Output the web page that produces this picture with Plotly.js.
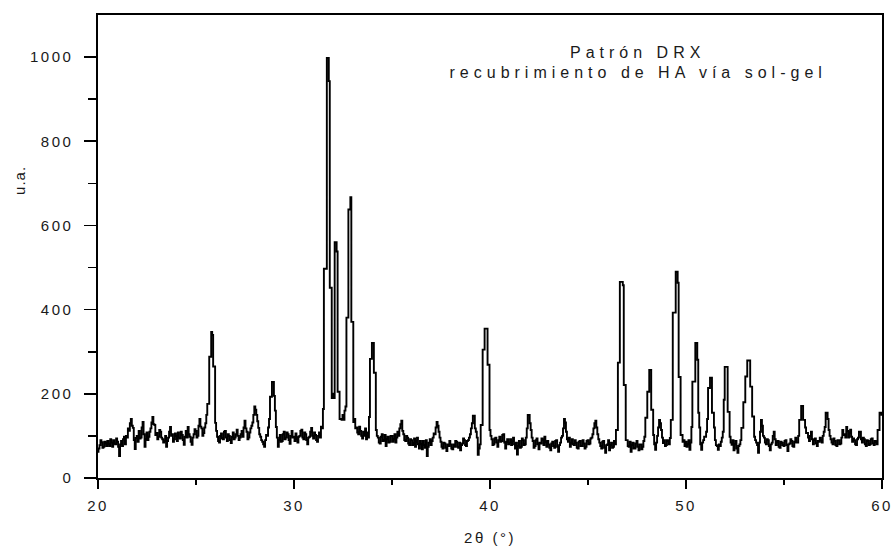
<!DOCTYPE html>
<html>
<head>
<meta charset="utf-8">
<script src="https://cdn.plot.ly/plotly-3.0.1.min.js"></script>
<style>
  html, body { margin: 0; padding: 0; background: #fff; }
  #chart { width: 893px; height: 551px; }
  #chart text { letter-spacing: 2.5px; }
  #chart .annotation-text { letter-spacing: 5px; }
</style>
</head>
<body>
<div id="chart"></div>
<script>
// 2θ scan: start and step (degrees)
const twoThetaStart = 20;
const twoThetaStep = 0.05;

// Intensity (u.a.), one row per degree (20 samples), 20.00 ... 60.00
const intensity = [
  62, 70, 78, 90, 85, 72, 74, 86, 82, 76, 88, 80, 76, 92, 84, 74, 90, 82, 80, 94,            // 20
  86, 74, 52, 80, 88, 76, 92, 98, 80, 100, 96, 118, 112, 130, 140, 124, 119, 90, 69, 95,     // 21
  100, 86, 112, 94, 96, 120, 133, 104, 74, 92, 108, 90, 98, 110, 118, 132, 145, 128, 126, 102, // 22
  107, 92, 98, 114, 110, 96, 92, 84, 88, 100, 74, 88, 96, 110, 121, 100, 104, 86, 92, 106,   // 23
  100, 88, 108, 96, 94, 110, 102, 90, 79, 98, 112, 96, 121, 104, 98, 86, 79, 96, 104, 116,   // 24
  112, 96, 100, 124, 140, 122, 118, 100, 107, 120, 130, 150, 176, 176, 288, 288, 347, 340, 265, 265, // 25
  131, 112, 98, 88, 84, 100, 106, 94, 92, 110, 112, 96, 88, 104, 100, 90, 83, 98, 108, 92,   // 26
  96, 104, 115, 100, 90, 96, 104, 112, 98, 120, 136, 118, 110, 92, 96, 108, 118, 124, 132, 150, // 27
  170, 162, 150, 135, 119, 104, 98, 90, 86, 80, 74, 90, 102, 100, 120, 140, 193, 193, 228, 228, // 28
  195, 160, 121, 96, 74, 90, 102, 86, 88, 104, 110, 92, 96, 108, 104, 90, 81, 100, 112, 96,  // 29
  98, 88, 106, 94, 84, 98, 100, 112, 115, 96, 92, 108, 104, 90, 80, 96, 98, 110, 119, 100,   // 30
  94, 108, 102, 90, 86, 100, 108, 96, 122, 118, 164, 497, 497, 497, 998, 998, 943, 452, 452, 190, // 31
  200, 190, 560, 560, 538, 205, 205, 140, 140, 138, 150, 138, 160, 170, 381, 381, 638, 638, 667, 371, // 32
  371, 133, 140, 118, 120, 108, 104, 122, 112, 100, 94, 110, 100, 118, 92, 108, 96, 145, 283, 283, // 33
  321, 321, 250, 250, 114, 100, 96, 84, 82, 98, 104, 88, 90, 102, 76, 92, 98, 84, 86, 100,   // 34
  100, 86, 92, 104, 84, 96, 110, 100, 118, 128, 136, 112, 104, 90, 88, 100, 96, 82, 78, 92,  // 35
  90, 78, 82, 94, 74, 86, 96, 80, 70, 88, 80, 68, 88, 78, 72, 90, 52, 74, 84, 92,            // 36
  78, 88, 96, 106, 104, 120, 133, 124, 110, 96, 86, 74, 70, 84, 82, 72, 64, 80, 76, 88,      // 37
  80, 70, 68, 80, 74, 88, 86, 74, 72, 84, 66, 78, 82, 94, 90, 78, 76, 88, 90, 96,            // 38
  104, 118, 130, 148, 148, 118, 110, 96, 55, 70, 80, 126, 126, 305, 305, 355, 355, 355, 269, 269, // 39
  114, 100, 92, 78, 80, 94, 96, 84, 74, 90, 98, 86, 88, 102, 104, 84, 70, 86, 92, 80,        // 40
  84, 92, 78, 88, 96, 80, 70, 84, 56, 76, 88, 72, 74, 94, 90, 78, 80, 96, 118, 150,          // 41
  150, 130, 114, 96, 88, 72, 76, 90, 94, 80, 68, 84, 82, 94, 90, 78, 98, 86, 74, 88,         // 42
  80, 72, 66, 82, 86, 76, 72, 88, 90, 74, 62, 78, 84, 96, 100, 118, 140, 132, 110, 92,       // 43
  86, 96, 74, 84, 92, 80, 78, 90, 84, 72, 70, 86, 88, 76, 76, 90, 82, 70, 74, 88,            // 44
  90, 80, 82, 94, 96, 104, 118, 130, 136, 120, 104, 92, 84, 76, 70, 86, 88, 72, 60, 78,      // 45
  80, 90, 66, 78, 84, 72, 74, 88, 80, 114, 114, 274, 274, 466, 466, 466, 458, 221, 221, 90,  // 46
  90, 76, 74, 86, 62, 78, 84, 70, 70, 82, 88, 74, 66, 80, 80, 68, 74, 88, 98, 143,           // 47
  143, 205, 205, 257, 257, 162, 162, 102, 80, 67, 84, 100, 120, 138, 130, 114, 96, 83, 90, 76, // 48
  78, 90, 88, 80, 95, 138, 138, 393, 393, 393, 490, 490, 464, 240, 240, 102, 102, 86, 90, 76, // 49
  86, 74, 80, 90, 67, 84, 121, 229, 229, 229, 321, 321, 281, 155, 120, 80, 67, 84, 90, 98,   // 50
  98, 110, 140, 214, 214, 238, 238, 155, 155, 120, 90, 78, 76, 67, 80, 76, 86, 96, 110, 186, // 51
  264, 264, 264, 157, 157, 98, 84, 79, 90, 66, 80, 88, 70, 60, 76, 80, 90, 119, 119, 180,    // 52
  180, 241, 241, 279, 279, 279, 217, 217, 146, 146, 98, 90, 84, 78, 60, 84, 110, 138, 124, 100, // 53
  96, 84, 80, 92, 90, 76, 66, 80, 84, 100, 110, 92, 78, 86, 88, 74, 72, 86, 84, 78,          // 54
  76, 88, 90, 78, 64, 80, 82, 92, 88, 76, 74, 86, 96, 84, 84, 100, 138, 138, 171, 171,       // 55
  138, 138, 120, 107, 107, 96, 88, 100, 110, 92, 80, 90, 94, 82, 76, 88, 86, 96, 90, 84,     // 56
  100, 110, 121, 155, 155, 140, 114, 100, 92, 84, 80, 94, 88, 78, 76, 90, 90, 80, 82, 96,    // 57
  114, 102, 104, 96, 121, 112, 96, 108, 115, 98, 86, 94, 90, 80, 78, 92, 96, 110, 110, 92,   // 58
  84, 96, 92, 80, 76, 90, 88, 78, 80, 92, 94, 82, 78, 88, 86, 80, 114, 114, 155, 155,        // 59
  150                                                                                       // 60
];

const xTickVals = [20, 30, 40, 50, 60];
const xTickText = ["20", "30", "40", "50", "60"];
const xMinorVals = [25, 35, 45, 55];
const yTickVals = [0, 200, 400, 600, 800, 1000];
const yTickText = ["0", "200", "400", "600", "800", "1000"];
const yMinorVals = [100, 300, 500, 700, 900];

const titleLine1 = "Patrón DRX";
const titleLine2 = "recubrimiento de HA vía sol-gel";
const xTitle = "2θ (°)";
const yTitle = "u.a.";

const fontFamily = "Liberation Sans, Arial, sans-serif";
const textColor = "#1a1a1a";

const trace = {
  type: "scatter",
  mode: "lines",
  x0: twoThetaStart,
  dx: twoThetaStep,
  y: intensity,
  line: { color: "#000", width: 1.9, shape: "hvh" },
  hoverinfo: "skip"
};

const layout = {
  width: 893,
  height: 551,
  margin: { l: 98, r: 11, t: 15, b: 73 },
  paper_bgcolor: "#fff",
  plot_bgcolor: "#fff",
  showlegend: false,
  font: { family: fontFamily, size: 15, color: textColor },
  xaxis: {
    range: [20, 60],
    tickvals: xTickVals,
    ticktext: xTickText,
    ticks: "outside",
    ticklen: 9,
    tickwidth: 1.6,
    tickcolor: "#000",
    ticklabelstandoff: 4,
    tickfont: { family: fontFamily, size: 15, color: textColor },
    minor: { tickvals: xMinorVals, ticks: "outside", ticklen: 5, tickwidth: 1.6, tickcolor: "#000" },
    showline: true,
    linecolor: "#000",
    linewidth: 1.6,
    mirror: true,
    showgrid: false,
    zeroline: false,
    title: { text: xTitle, font: { family: fontFamily, size: 15, color: textColor }, standoff: 20 }
  },
  yaxis: {
    range: [0, 1100],
    tickvals: yTickVals,
    ticktext: yTickText,
    ticks: "outside",
    ticklen: 12,
    tickwidth: 1.6,
    tickcolor: "#000",
    ticklabelstandoff: 8,
    tickfont: { family: fontFamily, size: 15, color: textColor },
    minor: { tickvals: yMinorVals, ticks: "outside", ticklen: 8, tickwidth: 1.6, tickcolor: "#000" },
    showline: true,
    linecolor: "#000",
    linewidth: 1.6,
    mirror: true,
    showgrid: false,
    zeroline: false
  },
  annotations: [
    { xref: "paper", yref: "paper", x: 0.689, y: 0.918, text: titleLine1, showarrow: false,
      font: { family: fontFamily, size: 16, color: textColor }, xanchor: "center", yanchor: "middle" },
    { xref: "paper", yref: "paper", x: 0.689, y: 0.876, text: titleLine2, showarrow: false,
      font: { family: fontFamily, size: 16, color: textColor }, xanchor: "center", yanchor: "middle" },
    { xref: "paper", yref: "paper", x: -0.1, y: 0.643, text: yTitle, showarrow: false, textangle: -90,
      font: { family: fontFamily, size: 15, color: textColor }, xanchor: "center", yanchor: "middle" }
  ]
};

Plotly.newPlot("chart", [trace], layout, { displayModeBar: false, staticPlot: true }).then(function () {
  // normal spacing for the rotated y title, like the reference
  const notes = document.querySelectorAll("#chart .annotation-text");
  if (notes.length === 3) notes[2].style.letterSpacing = "1px";
});
</script>
</body>
</html>
